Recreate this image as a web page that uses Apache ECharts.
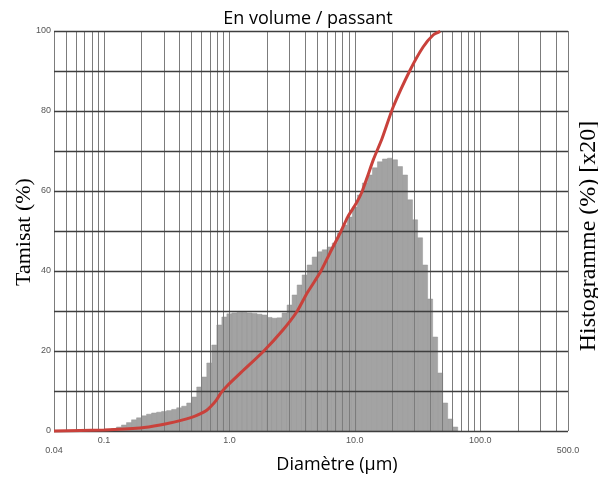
<!DOCTYPE html>
<html>
<head>
<meta charset="utf-8">
<script src="https://cdn.jsdelivr.net/npm/echarts@6/dist/echarts.min.js"></script>
<style>
  html, body { margin: 0; padding: 0; background: #ffffff; }
  #chart { width: 598px; height: 477px; }
</style>
</head>
<body>
<div id="chart"></div>
<script>
// Particle size classes (µm): bin boundaries of the histogram
const binEdges = [
  0.1148, 0.1259, 0.1380, 0.1514, 0.1660, 0.1820, 0.1995, 0.2188, 0.2399, 0.2630,
  0.2884, 0.3162, 0.3467, 0.3802, 0.4169, 0.4571, 0.5012, 0.5495, 0.6026, 0.6607,
  0.7244, 0.7943, 0.8710, 0.9550, 1.047, 1.148, 1.259, 1.380, 1.514, 1.660,
  1.820, 1.995, 2.188, 2.399, 2.630, 2.884, 3.162, 3.467, 3.802, 4.169,
  4.571, 5.012, 5.495, 6.026, 6.607, 7.244, 7.943, 8.710, 9.550, 10.47,
  11.48, 12.59, 13.80, 15.14, 16.60, 18.20, 19.95, 21.88, 23.99, 26.30,
  28.84, 31.62, 34.67, 38.02, 41.69, 45.71, 50.12, 54.95, 60.26, 66.07
];

// Histogram height per class (% x20)
const histValues = [
  0.6, 1.0, 1.5, 2.1, 2.8, 3.3, 3.8, 4.2, 4.5, 4.7,
  4.9, 5.1, 5.4, 5.8, 6.2, 7.0, 8.5, 11.0, 13.5, 17.0,
  21.5, 26.5, 28.5, 29.3, 29.5, 29.6, 29.6, 29.5, 29.4, 29.2,
  29.0, 28.4, 28.2, 28.3, 29.5, 31.5, 34.0, 36.5, 39.0, 41.5,
  43.5, 44.8, 45.3, 46.0, 47.0, 49.5, 51.5, 53.5, 56.0, 59.0,
  62.0, 64.0, 65.8, 67.3, 68.0, 68.2, 67.8, 66.1, 64.0, 57.8,
  52.8, 48.3, 41.5, 33.0, 23.5, 14.5, 7.0, 3.0, 1.0
];

// Cumulative passing curve
const curveDiameters = [
  0.04, 0.10, 0.194, 0.28, 0.404, 0.50, 0.584, 0.66,
  0.72, 0.79, 0.86, 0.953, 1.217, 1.856, 2.68, 3.448,
  4.165, 5.29, 6.35, 7.64, 8.8, 10.2, 11.3, 12.5, 14.07, 16.42,
  20.2, 27.6, 35.0, 42.1, 47.9
];
const curvePassing = [
  0, 0.25, 0.75, 1.5, 2.6, 3.4, 4.3, 5.2,
  6.3, 7.8, 9.6, 11.2, 14.4, 19.8, 25.3, 29.8,
  34.5, 39.6, 44.6, 49.5, 53.6, 56.8, 59.5, 63.3, 67.9, 73.0,
  81.0, 90.25, 96.0, 99.0, 99.9
];

// Axis ticks and labels
const xTickValues = [0.04, 0.1, 1, 10, 100, 500];
const xTickLabels = ['0.04', '0.1', '1.0', '10.0', '100.0', '500.0'];
const yTickValues = [0, 20, 40, 60, 80, 100];
const yTickLabels = ['0', '20', '40', '60', '80', '100'];

// Logarithmic grid (vertical) and linear grid (horizontal)
const vGridDiameters = [
  0.04, 0.05, 0.06, 0.07, 0.08, 0.09,
  0.1, 0.2, 0.3, 0.4, 0.5, 0.6, 0.7, 0.8, 0.9,
  1, 2, 3, 4, 5, 6, 7, 8, 9,
  10, 20, 30, 40, 50, 60, 70, 80, 90,
  100, 200, 300, 400, 500
];
const hGridValues = [0, 10, 20, 30, 40, 50, 60, 70, 80, 90, 100];

const histData = histValues.map((v, i) => [binEdges[i], binEdges[i + 1], v]);
const curveData = curveDiameters.map((d, i) => [d, curvePassing[i]]);

const chart = echarts.init(document.getElementById('chart'), null, { renderer: 'canvas' });

const gridLines = []
  .concat(vGridDiameters.map(d => ({
    xAxis: d,
    lineStyle: { color: '#7c7c7c', width: 1, type: 'solid' }
  })))
  .concat(hGridValues.map(v => ({
    yAxis: v,
    lineStyle: { color: '#3e3e3e', width: 1.4, type: 'solid' }
  })));

function xLabel(value) {
  for (let i = 0; i < xTickValues.length; i++) {
    if (Math.abs(Math.log10(value) - Math.log10(xTickValues[i])) < 0.01) {
      const t = xTickLabels[i];
      return (i === 0 || i === xTickValues.length - 1) ? '{low|' + t + '}' : '{n|' + t + '}';
    }
  }
  return '';
}

function yLabel(value) {
  const i = yTickValues.indexOf(Math.round(value));
  return i >= 0 ? yTickLabels[i] : '';
}

const tickFont = { fontFamily: 'Liberation Sans', fontSize: 9, color: '#555555' };

chart.setOption({
  animation: false,
  backgroundColor: '#ffffff',
  grid: { left: 54, right: 30, top: 31, bottom: 46, containLabel: false },
  xAxis: {
    type: 'log',
    logBase: 10,
    min: 0.04,
    max: 500,
    axisLine: { show: false },
    axisTick: { show: false },
    splitLine: { show: false },
    minorTick: { show: false },
    axisLabel: {
      show: true,
      margin: 5,
      showMinLabel: true,
      showMaxLabel: true,
      formatter: xLabel,
      rich: {
        n: Object.assign({}, tickFont),
        low: Object.assign({ padding: [10, 0, 0, 0] }, tickFont)
      }
    }
  },
  yAxis: {
    type: 'value',
    min: 0,
    max: 100,
    interval: 20,
    axisLine: { show: false },
    axisTick: { show: false },
    splitLine: { show: false },
    axisLabel: Object.assign({
      margin: 3,
      formatter: yLabel,
      padding: [0, 0, 6, 0]
    }, tickFont)
  },
  series: [
    {
      name: 'Histogramme',
      type: 'custom',
      z: 1,
      data: histData,
      encode: { x: [0, 1], y: 2 },
      renderItem: function (params, api) {
        const lo = api.value(0), hi = api.value(1), v = api.value(2);
        const p0 = api.coord([lo, v]);
        const p1 = api.coord([hi, 0]);
        return {
          type: 'rect',
          shape: { x: p0[0], y: p0[1], width: p1[0] - p0[0], height: p1[1] - p0[1] },
          style: { fill: '#a3a3a3', stroke: '#979797', lineWidth: 0.5 }
        };
      }
    },
    {
      name: 'grille',
      type: 'line',
      z: 2,
      data: [[0.04, 0]],
      showSymbol: false,
      lineStyle: { width: 0, opacity: 0 },
      silent: true,
      markLine: {
        silent: true,
        symbol: ['none', 'none'],
        label: { show: false },
        animation: false,
        data: gridLines
      }
    },
    {
      name: 'Tamisat',
      type: 'line',
      z: 5,
      data: curveData,
      smooth: 0.2,
      showSymbol: false,
      symbol: 'none',
      clip: false,
      lineStyle: { color: '#c9413b', width: 3 }
    }
  ],
  graphic: [
    {
      type: 'text',
      x: 308, y: 19,
      style: {
        text: 'En volume / passant',
        font: '18px "Open Sans"',
        fill: '#000000', textAlign: 'center', textVerticalAlign: 'middle'
      }
    },
    {
      type: 'text',
      x: 337, y: 465,
      style: {
        text: 'Diamètre (µm)',
        font: '18px "Open Sans"',
        fill: '#000000', textAlign: 'center', textVerticalAlign: 'middle'
      }
    },
    {
      type: 'text',
      x: 24, y: 232, rotation: Math.PI / 2,
      style: {
        text: 'Tamisat (%)',
        font: '22px "Liberation Serif"',
        fill: '#000000', textAlign: 'center', textVerticalAlign: 'middle'
      }
    },
    {
      type: 'text',
      x: 589, y: 236, rotation: Math.PI / 2,
      style: {
        text: 'Histogramme (%) [x20]',
        font: '24px "Liberation Serif"',
        fill: '#000000', textAlign: 'center', textVerticalAlign: 'middle'
      }
    }
  ]
});
</script>
</body>
</html>
